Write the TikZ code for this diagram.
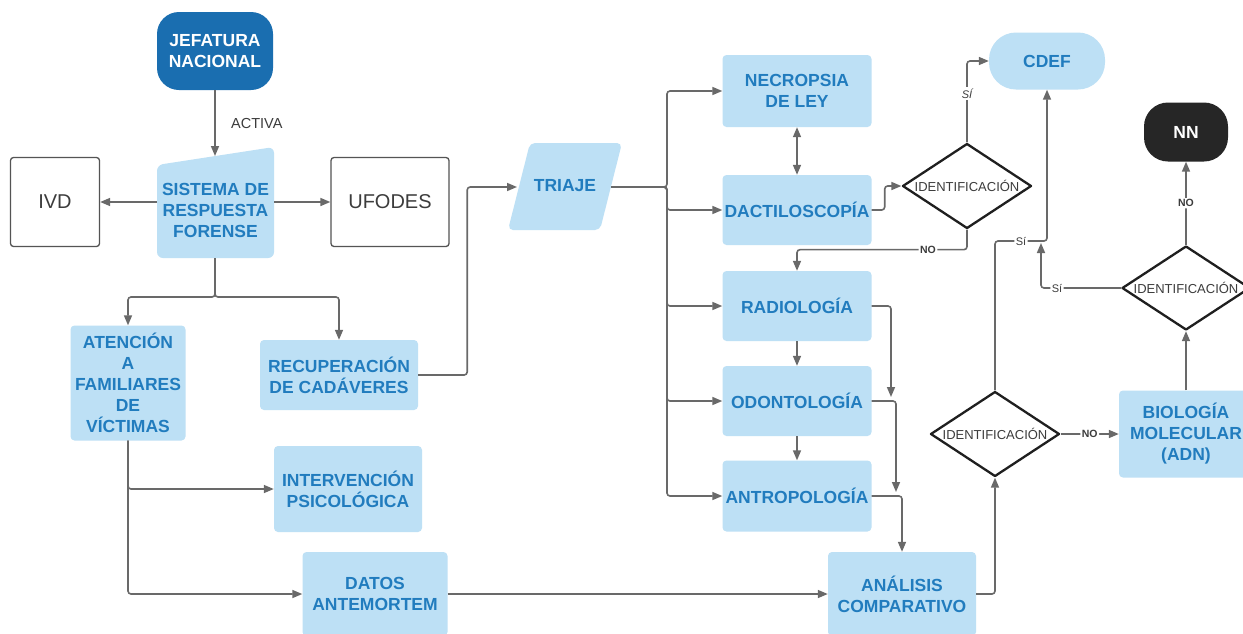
\documentclass[tikz,border=0pt]{standalone}
\usepackage{fontspec}
\setmainfont{Liberation Sans}
\usetikzlibrary{shapes.geometric,arrows.meta,calc}
\definecolor{lb}{RGB}{189,224,245}
\definecolor{tb}{RGB}{33,124,190}
\definecolor{jb}{RGB}{26,110,176}
\definecolor{ln}{RGB}{105,105,105}
\definecolor{tg}{RGB}{60,60,60}
\begin{document}
\begin{tikzpicture}[x=1pt,y=-1pt,
  box/.style={rectangle, rounded corners=4pt, fill=lb, text=tb, font=\bfseries\fontsize{17.5}{21}\selectfont, align=center, inner sep=0pt},
  wbox/.style={rectangle, rounded corners=3pt, draw=ln!80!black, line width=1.3pt, fill=white, text=tg, font=\fontsize{20}{24}\selectfont, inner sep=0pt},
  dec/.style={diamond, draw=black!88, line width=2.3pt, line join=round, fill=white, inner sep=0pt, text=tg, font=\fontsize{13}{15}\selectfont},
  conn/.style={draw=ln, line width=1.6pt, rounded corners=3pt, -{Triangle[length=10pt,width=8pt]}},
  lab/.style={fill=white, text=tg, inner sep=1.5pt, font=\bfseries\fontsize{10.5}{12}\selectfont},
  sil/.style={fill=white, text=tg, inner sep=1.5pt, font=\fontsize{11}{13}\selectfont},
]
\useasboundingbox (0,0) rectangle (1243,633);
\clip (0,0) rectangle (1243,633);
\fill[white] (0,0) rectangle (1243,633);

% nodes
\node[box, fill=jb, text=white, rounded corners=22pt, minimum width=116, minimum height=78] (jef) at (215,51) {JEFATURA\\NACIONAL};
\fill[lb, rounded corners=6pt] (157,165) -- (274,147) -- (274,258) -- (157,258) -- cycle;
\node[box, fill=none] (sis) at (215.5,210) {SISTEMA DE\\RESPUESTA\\FORENSE};
\coordinate (sisT) at (215,156);
\coordinate (sisL) at (157,202);
\coordinate (sisR) at (274,202);
\coordinate (sisB) at (215,258);

\node[wbox, minimum width=89, minimum height=89] (ivd) at (55,202) {IVD};
\node[wbox, minimum width=118, minimum height=89] (ufo) at (390,202) {UFODES};

\node[box, minimum width=115, minimum height=115] (aten) at (128,383) {ATENCIÓN\\A\\FAMILIARES\\DE\\VÍCTIMAS};
\node[box, minimum width=158, minimum height=70] (recup) at (339,375) {RECUPERACIÓN\\DE CADÁVERES};
\node[box, minimum width=148, minimum height=86] (psic) at (348,489) {INTERVENCIÓN\\PSICOLÓGICA};
\node[box, minimum width=145, minimum height=84] (datos) at (375,594) {DATOS\\ANTEMORTEM};

\fill[lb, rounded corners=5pt] (530,143) -- (622,143) -- (600,230) -- (508,230) -- cycle;
\node[box, fill=none] (triaje) at (565,186) {TRIAJE};
\coordinate (triW) at (517,187);
\coordinate (triE) at (611,187);
\coordinate (tk) at (667,187);

\node[box, minimum width=149, minimum height=72] (necro) at (797,91) {NECROPSIA\\DE LEY};
\node[box, minimum width=149, minimum height=70] (dacti) at (797,210) {DACTILOSCOPÍA};
\node[box, minimum width=149, minimum height=70] (radio) at (797,306) {RADIOLOGÍA};
\node[box, minimum width=149, minimum height=70] (odon) at (797,401) {ODONTOLOGÍA};
\node[box, minimum width=149, minimum height=71] (antro) at (797,496) {ANTROPOLOGÍA};
\node[box, minimum width=148, minimum height=84] (anal) at (902,594) {ANÁLISIS\\COMPARATIVO};

\node[dec, minimum width=129, minimum height=85] (d1) at (967,186) {\makebox[0pt]{IDENTIFICACIÓN}};
\node[dec, minimum width=129, minimum height=85] (d3) at (995,434) {\makebox[0pt]{IDENTIFICACIÓN}};
\node[dec, minimum width=128, minimum height=84] (d2) at (1186,288) {\makebox[0pt]{IDENTIFICACIÓN}};

\node[box, rounded corners=27pt, minimum width=116, minimum height=57] (cdef) at (1047,61) {CDEF};
\node[box, fill=black!85, text=white, rounded corners=24pt, minimum width=84, minimum height=59] (nn) at (1186,132) {NN};
\node[box, minimum width=134, minimum height=87] (bio) at (1186,434) {BIOLOGÍA\\MOLECULAR\\(ADN)};

\coordinate (m1) at (891,397);
\coordinate (m2) at (896,492);
\coordinate (j1) at (1047,241);
\coordinate (j2) at (1041,243);

% connectors
\draw[conn] (jef.south) -- node[right=12pt, text=tg, font=\fontsize{14.5}{16}\selectfont]{ACTIVA} (sisT);
\draw[conn] (sisL) -- (ivd.east);
\draw[conn] (sisR) -- (ufo.west);
\draw[conn] (sisB) -- ++(0,39) -| (aten.north);
\draw[conn] (sisB) -- ++(0,39) -| (recup.north);
\draw[conn] (aten.south) |- (psic.west);
\draw[conn] (aten.south) |- (datos.west);
\draw[conn] (recup.east) -- ++(49,0) |- (triW);
\draw[conn] (datos.east) -- (anal.west);
\foreach \n in {necro,dacti,radio,odon,antro} \draw[conn] (triE) -- (tk) |- (\n.west);
\draw[conn,{Triangle[length=10pt,width=8pt]}-{Triangle[length=10pt,width=8pt]}] (necro.south) -- (dacti.north);
\draw[conn] (radio.south) -- (odon.north);
\draw[conn] (odon.south) -- (antro.north);
\draw[conn] (dacti.east) -- ++(13,0) |- (d1.west);
\draw[conn] (d1.north) |- node[pos=0.3, sil, font=\itshape\fontsize{11}{13}\selectfont]{SÍ} (cdef.west);
\draw[conn] (d1.south) -- ++(0,20) -| node[pos=0.115, lab]{NO} (radio.north);
\draw[conn] (radio.east) -| (m1);
\draw[conn] (odon.east) -| (m2);
\draw[conn] (antro.east) -| (anal.north);
\draw[conn] (anal.east) -| (d3.south);
\draw[conn] (d3.east) -- node[lab]{NO} (bio.west);
\draw[conn] (bio.north) -- (d2.south);
\draw[conn] (d2.north) -- node[lab]{NO} (nn.south);
\draw[conn] (d3.north) |- node[pos=0.75, sil]{Sí} (j1) -- (cdef.south);
\draw[conn] (d2.west) -| node[pos=0.4, sil]{Sí} (j2);
\end{tikzpicture}
\end{document}
